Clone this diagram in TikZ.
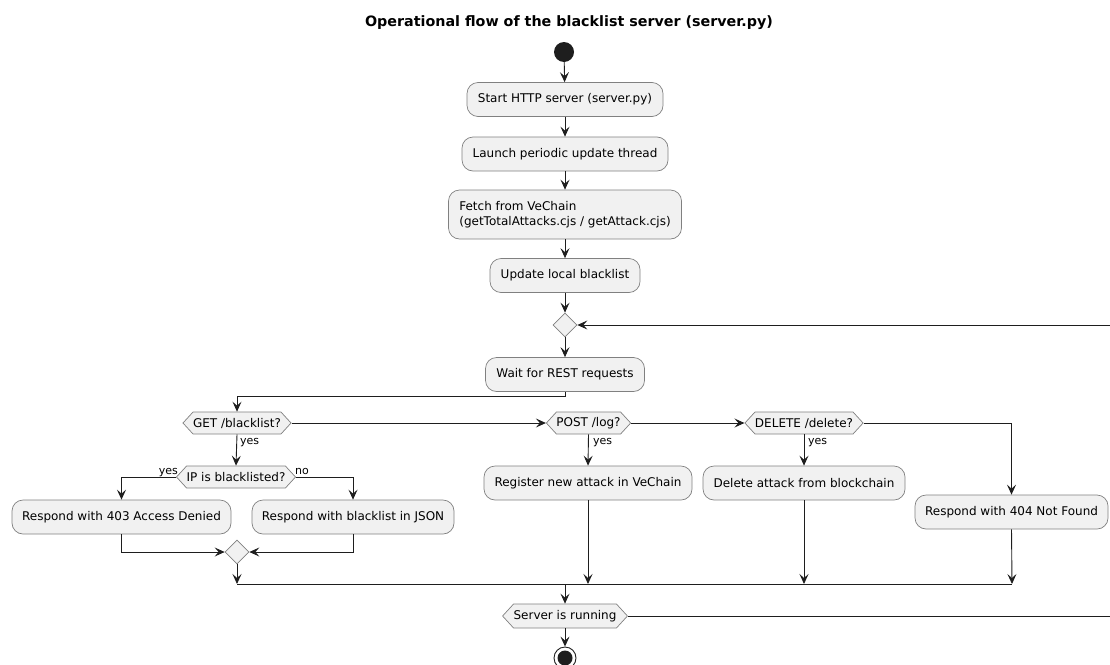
\documentclass[tikz,border=0pt]{standalone}
\usepackage{fontspec}
\setmainfont{DejaVu Sans}
\usetikzlibrary{shapes.geometric,shapes.symbols,arrows.meta}
\definecolor{boxfill}{HTML}{F1F1F1}
\definecolor{boxline}{HTML}{808080}
\definecolor{flowline}{HTML}{1E1E1E}

\begin{document}
\begin{tikzpicture}[x=1pt,y=-1pt,
  font=\fontsize{12}{14.4}\selectfont,
  act/.style={draw=boxline, fill=boxfill, line width=0.7pt, rounded corners=11pt,
    minimum height=34pt, inner sep=0pt},
  cond/.style={shape=signal, signal to=east and west, signal pointer angle=95,
    draw=boxline, fill=boxfill, line width=0.7pt, minimum height=22pt, inner sep=0pt},
  merge/.style={diamond, draw=boxline, fill=boxfill, line width=0.7pt,
    minimum width=24pt, minimum height=24pt, inner sep=0pt},
  flow/.style={draw=flowline, line width=0.9pt, -{Stealth[length=10pt,width=9pt,inset=4pt]}},
  wire/.style={draw=flowline, line width=0.9pt},
  lbl/.style={font=\fontsize{11}{13}\selectfont, inner sep=0pt}
]
\useasboundingbox (0,0) rectangle (1110,664);
\clip (0,0) rectangle (1110,664);

% title
\node (title) [font=\fontsize{14.3}{17}\bfseries\selectfont] at (569,23)
  {Operational flow of the blacklist server (server.py)};

% start / initialisation
\node (start) [circle, fill=flowline, minimum size=20pt, inner sep=0pt] at (564,52) {};
\node (srv)   [act, minimum width=196pt] at (565,99.5) {Start HTTP server (server.py)};
\node (thr)   [act, minimum width=206pt] at (565,154) {Launch periodic update thread};
\node (fetch) [act, minimum width=233pt, minimum height=49pt, align=left] at (565,214.5)
  {Fetch from VeChain\\(getTotalAttacks.cjs / getAttack.cjs)};
\node (upd)   [act, minimum width=150pt] at (565,275.5) {Update local blacklist};
\node (m1)    [merge] at (565,325) {};
\node (wait)  [act, minimum width=159pt] at (565,374.5) {Wait for REST requests};

% request dispatch
\node (get)  [cond, minimum width=103pt] at (237,423) {GET /blacklist?};
\node (post) [cond, minimum width=81pt]  at (588.5,423) {POST /log?};
\node (del)  [cond, minimum width=112pt] at (804,423) {DELETE /delete?};
\node (ip)   [cond, minimum width=112pt] at (236,477) {IP is blacklisted?};

\node (deny) [act, minimum width=219pt] at (121.5,517) {Respond with 403 Access Denied};
\node (json) [act, minimum width=202pt] at (353,517) {Respond with blacklist in JSON};
\node (m2)   [merge] at (237,552) {};
\node (reg)  [act, minimum width=208pt] at (588,483) {Register new attack in VeChain};
\node (rm)   [act, minimum width=202pt] at (804,483) {Delete attack from blockchain};
\node (nf)   [act, minimum width=193pt] at (1011.5,512) {Respond with 404 Not Found};

\coordinate (jl) at (237,584);
\coordinate (jr) at (1012,584);
\coordinate (jm) at (565,584);

\node (run)  [cond, minimum width=120pt, minimum height=24pt] at (565,616) {Server is running};
\node (stop) [circle, draw=flowline, line width=0.9pt, minimum size=22pt, inner sep=0pt] at (565,658) {};
\node (stopdot) [circle, fill=flowline, minimum size=15pt, inner sep=0pt] at (stop.center) {};

% connectors
\draw[flow] (start) -- (srv);
\draw[flow] (srv) -- (thr);
\draw[flow] (thr) -- (fetch);
\draw[flow] (fetch) -- (upd);
\draw[flow] (upd) -- (m1);
\draw[flow] (m1) -- (wait);
\draw[flow] (wait.south) -- ++(0,5) -| (get.north);
\draw[flow] (get.east) -- (post.west);
\draw[flow] (post.east) -- (del.west);
\draw[flow] (del.east) -| (nf.north);

\draw[flow] (get.south) -- (ip.north);
\node[lbl, anchor=base west] at (240,444) {yes};
\draw[flow] (ip.west) -| (deny.north);
\node[lbl, anchor=base east] at (178,474) {yes};
\draw[flow] (ip.east) -| (json.north);
\node[lbl, anchor=base west] at (295,474) {no};
\draw[flow] (deny.south) |- (m2.west);
\draw[flow] (json.south) |- (m2.east);
\draw[flow] (m2.south) -- (jl);

\draw[flow] (post.south) -- (reg.north);
\node[lbl, anchor=base west] at (593,444) {yes};
\draw[flow] (del.south) -- (rm.north);
\node[lbl, anchor=base west] at (808,444) {yes};

\draw[flow] (reg.south) -- (reg.south |- jl);
\draw[flow] (rm.south) -- (rm.south |- jl);
\draw[flow] (nf.south) -- (jr);
\draw[wire] (jl) -- (jr);

\draw[flow] (jm) -- (run.north);
\draw[flow] (run.east) -- ++(510,0) |- (m1.east);
\draw[flow] (run.south) -- (stop.north);
\end{tikzpicture}
\end{document}
